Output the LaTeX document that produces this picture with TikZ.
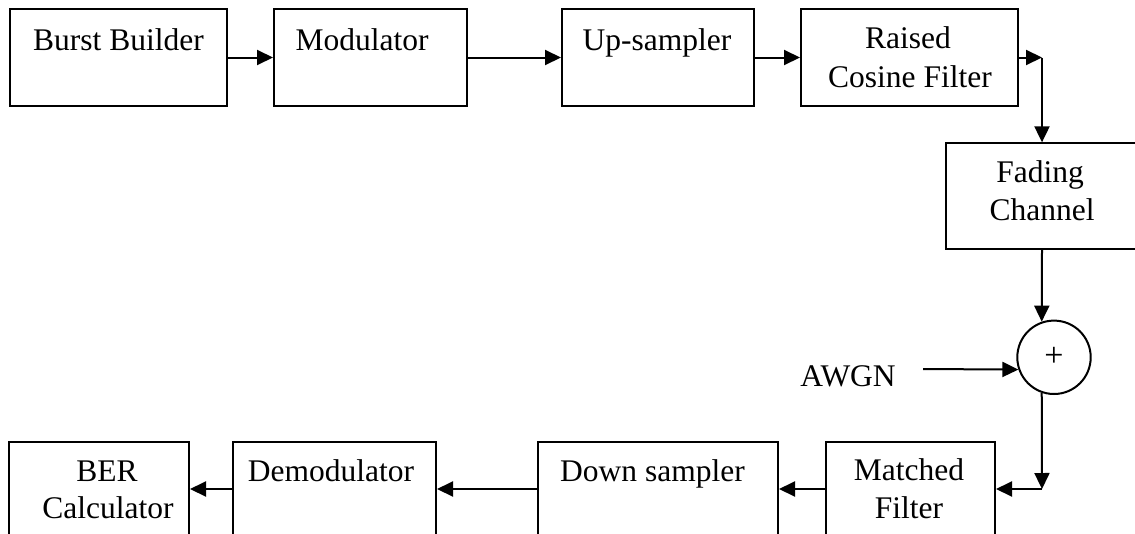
\documentclass[tikz,border=0pt]{standalone}
\usepackage{fontspec}
\setmainfont{Liberation Serif}
\usetikzlibrary{arrows.meta,calc}
\begin{document}
\begin{tikzpicture}[x=1pt,y=-1pt,
  box/.style={draw,line width=2pt,rectangle,inner sep=0pt},
  sumnode/.style={draw,line width=2pt,circle,inner sep=0pt,minimum size=73.4pt,
    font=\fontsize{34}{40}\selectfont},
  lbl/.style={inner sep=0pt,anchor=base,font=\fontsize{31.5}{37}\selectfont},
  arr/.style={line width=2pt,-{Triangle[length=16pt,width=15pt]}}]
\useasboundingbox (0,0) rectangle (1135,533);
\clip (0,0) rectangle (1135,533);

% transmitter chain
\node[box,minimum width=217pt,minimum height=97pt] (bb)  at (118.5,57.5) {};
\node[box,minimum width=193pt,minimum height=97pt] (mod) at (370.5,57.5) {};
\node[box,minimum width=192pt,minimum height=97pt] (up)  at (658,57.5) {};
\node[box,minimum width=217pt,minimum height=97pt] (rc)  at (909.5,57.5) {};
\node[lbl] (bbt)  at (118.5,50) {Burst Builder};
\node[lbl] (modt) at (362,50) {Modulator};
\node[lbl] (upt)  at (657,50) {Up-sampler};
\node[lbl] (rct1) at (908,48) {Raised};
\node[lbl] (rct2) at (910,87) {Cosine Filter};

% channel
\node[box,minimum width=194pt,minimum height=105.7pt] (fad) at (1043,196.2) {};
\node[lbl] (fadt1) at (1040,182.7) {Fading};
\node[lbl] (fadt2) at (1042,220) {Channel};
\node[sumnode] (sum) at (1054,357.3) {\raisebox{-3pt}{+}};
\node[lbl] (awgn) at (848,386) {AWGN};

% receiver chain
\node[box,minimum width=180pt,minimum height=95pt] (ber) at (99,489) {};
\node[box,minimum width=203pt,minimum height=95pt] (dem) at (334.5,489) {};
\node[box,minimum width=240pt,minimum height=95pt] (ds)  at (658,489) {};
\node[box,minimum width=169pt,minimum height=95pt] (mf)  at (910.5,489) {};
\node[lbl] (bert1) at (107,481.7) {BER};
\node[lbl] (bert2) at (108,518) {Calculator};
\node[lbl] (demt)  at (331,481) {Demodulator};
\node[lbl] (dst)   at (652.5,481.7) {Down sampler};
\node[lbl] (mft1)  at (909,480) {Matched};
\node[lbl] (mft2)  at (909,518) {Filter};

% bends and free ends
\coordinate (c1) at (1042,57.5);
\coordinate (c2) at (1042,489);
\coordinate (aw) at (923,369);

% connectors
\draw[arr] (bb.east) -- (mod.west);
\draw[arr] (mod.east) -- (up.west);
\draw[arr] (up.east) -- (rc.west);
\draw[arr] (rc.east) -- (c1);
\draw[arr] (c1) -- (c1 |- fad.north);
\draw[arr] (c1 |- fad.south) -- (sum.109);
\draw[arr] (aw) -- (sum.199);
\draw[arr] (sum.-109) -- (c2);
\draw[arr] (c2) -- (mf.east);
\draw[arr] (mf.west) -- (ds.east);
\draw[arr] (ds.west) -- (dem.east);
\draw[arr] (dem.west) -- (ber.east);
\end{tikzpicture}
\end{document}
